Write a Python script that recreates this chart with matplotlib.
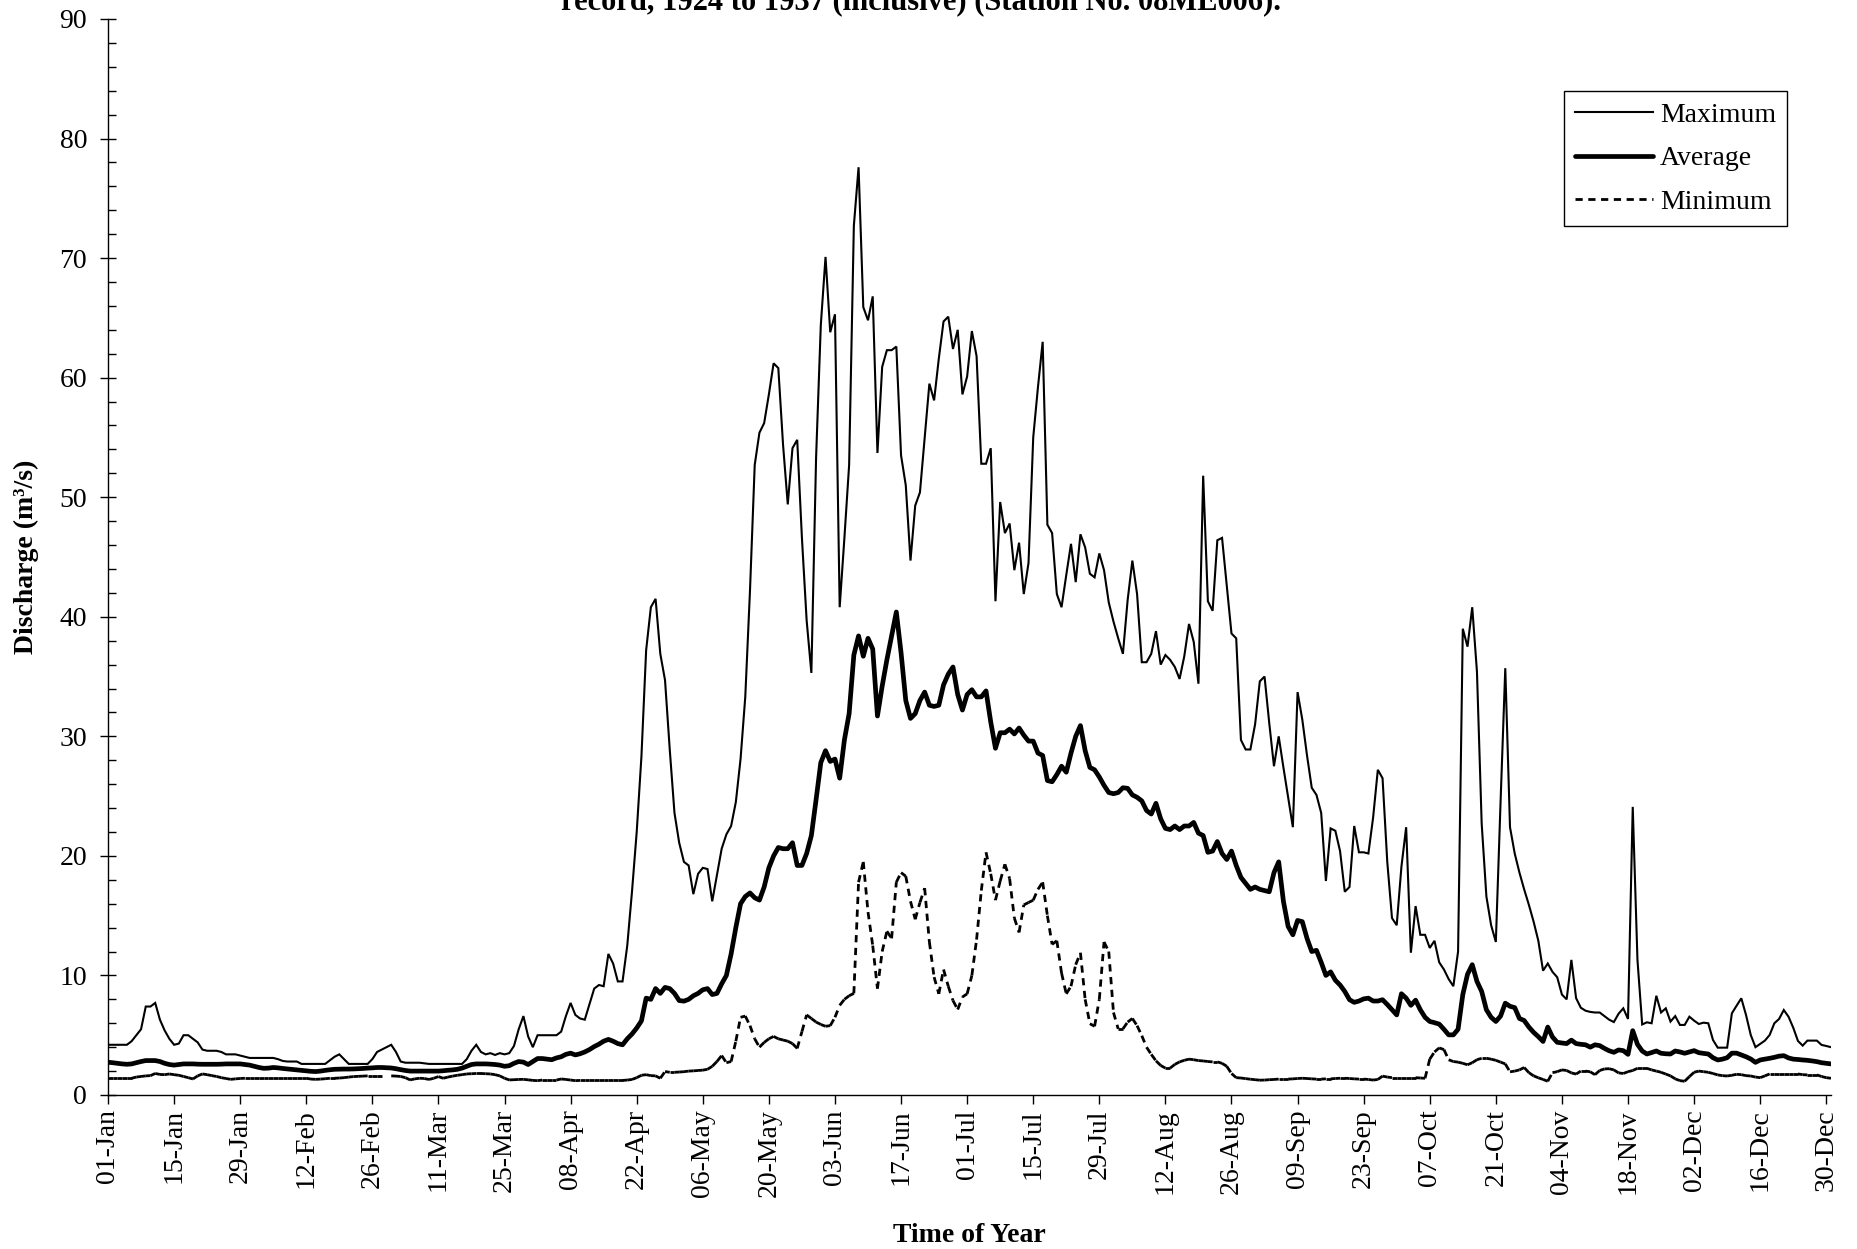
import numpy as np
import pandas as pd
import matplotlib
matplotlib.use("Agg")
import matplotlib.pyplot as plt
import matplotlib.dates as mdates
from matplotlib.collections import LineCollection
from matplotlib.lines import Line2D

plt.rcParams['font.family'] = ['Liberation Serif', 'DejaVu Serif']

# ---------------- DATA ----------------
title_text = "record, 1924 to 1937 (inclusive) (Station No. 08ME006)."
x_label = "Time of Year"
y_label = "Discharge (m³/s)"
series_names = ["Maximum", "Average", "Minimum"]

# one value per calendar day of a leap year, 01-Jan .. 31-Dec
days = pd.date_range("2000-01-01", "2000-12-31", freq="D")

maximum = [
    4.2, 4.2, 4.2, 4.2, 4.2, 4.5, 5.0, 5.5, 7.4, 7.4,
    7.7, 6.3, 5.4, 4.7, 4.2, 4.3, 5.0, 5.0, 4.7, 4.4,
    3.8, 3.7, 3.7, 3.7, 3.6, 3.4, 3.4, 3.4, 3.3, 3.2,
    3.1, 3.1, 3.1, 3.1, 3.1, 3.1, 3.0, 2.85, 2.8, 2.8,
    2.8, 2.6, 2.6, 2.6, 2.6, 2.6, 2.6, 2.9, 3.2, 3.4,
    3.0, 2.6, 2.6, 2.6, 2.6, 2.6, 3.0, 3.6, 3.8, 4.0,
    4.2, 3.6, 2.8, 2.7, 2.7, 2.7, 2.7, 2.65, 2.6, 2.6,
    2.6, 2.6, 2.6, 2.6, 2.6, 2.6, 3.0, 3.7, 4.2, 3.6,
    3.4, 3.5, 3.35, 3.5, 3.4, 3.5, 4.1, 5.5, 6.6, 4.9,
    4.0, 5.0, 5.0, 5.0, 5.0, 5.0, 5.3, 6.6, 7.7, 6.7,
    6.4, 6.3, 7.6, 8.9, 9.2, 9.1, 11.8, 11.0, 9.5, 9.5,
    12.5, 17.0, 22.0, 28.3, 37.2, 40.8, 41.5, 36.9, 34.7, 28.9,
    23.6, 21.1, 19.5, 19.2, 16.8, 18.5, 19.0, 18.9, 16.2, 18.4,
    20.6, 21.8, 22.5, 24.5, 28.1, 33.3, 42.2, 52.7, 55.4, 56.2,
    58.6, 61.2, 60.8, 54.4, 49.4, 54.1, 54.8, 46.6, 39.7, 35.3,
    53.3, 64.4, 70.1, 63.8, 65.3, 40.8, 46.6, 52.7, 72.7, 77.6,
    65.9, 64.8, 66.8, 53.7, 60.9, 62.3, 62.3, 62.6, 53.5, 51.0,
    44.7, 49.3, 50.4, 55.0, 59.5, 58.1, 61.6, 64.7, 65.1, 62.4,
    64.0, 58.6, 60.1, 63.9, 61.8, 52.8, 52.8, 54.1, 41.3, 49.6,
    47.0, 47.8, 43.9, 46.2, 41.9, 44.5, 55.0, 59.2, 63.0, 47.7,
    47.0, 41.9, 40.8, 43.5, 46.1, 42.9, 46.9, 45.8, 43.6, 43.3,
    45.3, 43.9, 41.2, 39.6, 38.2, 36.9, 41.4, 44.7, 41.9, 36.2,
    36.2, 36.9, 38.8, 36.0, 36.8, 36.4, 35.8, 34.8, 36.7, 39.4,
    37.9, 34.4, 51.8, 41.3, 40.5, 46.4, 46.6, 42.6, 38.6, 38.2,
    29.7, 28.9, 28.9, 31.0, 34.6, 35.0, 31.1, 27.5, 30.0, 27.4,
    24.9, 22.4, 33.7, 31.4, 28.4, 25.7, 25.1, 23.6, 17.9, 22.3,
    22.1, 20.4, 17.0, 17.4, 22.5, 20.3, 20.3, 20.2, 23.2, 27.2,
    26.5, 19.5, 14.8, 14.2, 19.1, 22.4, 11.9, 15.8, 13.4, 13.4,
    12.3, 12.9, 11.1, 10.5, 9.7, 9.1, 12.0, 39.0, 37.5, 40.8,
    35.4, 22.7, 16.6, 14.2, 12.8, 24.5, 35.7, 22.4, 20.2, 18.6,
    17.2, 15.9, 14.5, 12.9, 10.4, 11.0, 10.3, 9.85, 8.4, 8.0,
    11.3, 8.1, 7.3, 7.05, 6.95, 6.9, 6.9, 6.6, 6.3, 6.1,
    6.8, 7.25, 6.36, 24.1, 11.3, 5.9, 6.08, 6.0, 8.3, 6.9,
    7.25, 6.14, 6.6, 5.86, 5.86, 6.55, 6.22, 5.94, 6.05, 6.0,
    4.6, 3.96, 3.96, 3.96, 6.83, 7.47, 8.09, 6.69, 5.02, 4.0,
    4.27, 4.55, 5.02, 6.0, 6.36, 7.11, 6.55, 5.63, 4.52, 4.13,
    4.55, 4.55, 4.55, 4.19, 4.1, 4.0,
]

average = [
    2.74, 2.7, 2.65, 2.6, 2.57, 2.6, 2.7, 2.8, 2.88, 2.88,
    2.88, 2.8, 2.65, 2.55, 2.5, 2.55, 2.6, 2.6, 2.6, 2.58,
    2.57, 2.57, 2.57, 2.57, 2.58, 2.6, 2.6, 2.6, 2.6, 2.55,
    2.5, 2.4, 2.3, 2.23, 2.25, 2.3, 2.27, 2.22, 2.18, 2.14,
    2.1, 2.06, 2.02, 1.98, 1.96, 2.0, 2.06, 2.11, 2.15, 2.16,
    2.17, 2.17, 2.18, 2.2, 2.22, 2.25, 2.27, 2.3, 2.3, 2.28,
    2.26, 2.2, 2.12, 2.05, 2.0, 2.0, 2.0, 2.0, 2.0, 2.0,
    2.0, 2.03, 2.07, 2.1, 2.15, 2.25, 2.4, 2.55, 2.6, 2.6,
    2.6, 2.58, 2.55, 2.5, 2.4, 2.45, 2.65, 2.8, 2.75, 2.55,
    2.8, 3.05, 3.05, 3.0, 2.95, 3.1, 3.2, 3.4, 3.5, 3.35,
    3.45, 3.6, 3.8, 4.05, 4.25, 4.5, 4.65, 4.5, 4.3, 4.2,
    4.7, 5.1, 5.6, 6.2, 8.1, 8.0, 8.9, 8.5, 9.0, 8.9,
    8.5, 7.9, 7.85, 8.0, 8.3, 8.5, 8.8, 8.9, 8.4, 8.5,
    9.3, 10.0, 11.8, 14.0, 16.0, 16.6, 16.9, 16.5, 16.3, 17.4,
    19.0, 20.0, 20.7, 20.6, 20.6, 21.1, 19.2, 19.2, 20.2, 21.7,
    24.7, 27.8, 28.8, 27.9, 28.1, 26.5, 29.7, 31.9, 36.8, 38.4,
    36.7, 38.2, 37.3, 31.7, 34.2, 36.4, 38.4, 40.4, 37.0, 33.0,
    31.5, 31.9, 33.0, 33.7, 32.6, 32.5, 32.6, 34.3, 35.2, 35.8,
    33.5, 32.2, 33.5, 33.9, 33.3, 33.3, 33.8, 31.2, 29.0, 30.3,
    30.3, 30.6, 30.2, 30.7, 30.1, 29.6, 29.6, 28.6, 28.4, 26.3,
    26.2, 26.8, 27.5, 27.0, 28.6, 30.0, 30.9, 28.8, 27.4, 27.2,
    26.6, 25.9, 25.3, 25.2, 25.3, 25.7, 25.65, 25.1, 24.9, 24.6,
    23.8, 23.5, 24.4, 23.1, 22.3, 22.2, 22.5, 22.2, 22.5, 22.5,
    22.8, 21.9, 21.7, 20.3, 20.4, 21.2, 20.2, 19.7, 20.4, 19.2,
    18.2, 17.7, 17.2, 17.4, 17.2, 17.1, 17.0, 18.6, 19.5, 16.2,
    14.1, 13.4, 14.6, 14.5, 13.1, 12.0, 12.1, 11.1, 10.0, 10.3,
    9.6, 9.2, 8.66, 7.97, 7.75, 7.86, 8.04, 8.1, 7.86, 7.86,
    7.97, 7.57, 7.13, 6.7, 8.47, 8.1, 7.5, 7.93, 7.13, 6.5,
    6.15, 6.05, 5.93, 5.5, 5.03, 5.03, 5.5, 8.4, 10.1, 10.9,
    9.5, 8.66, 7.13, 6.5, 6.15, 6.6, 7.68, 7.42, 7.31, 6.4,
    6.23, 5.68, 5.24, 4.88, 4.48, 5.68, 4.85, 4.41, 4.35, 4.3,
    4.59, 4.3, 4.24, 4.2, 4.0, 4.2, 4.13, 3.9, 3.7, 3.57,
    3.77, 3.71, 3.4, 5.38, 4.24, 3.68, 3.43, 3.55, 3.68, 3.49,
    3.45, 3.43, 3.68, 3.6, 3.49, 3.6, 3.71, 3.54, 3.48, 3.43,
    3.12, 2.93, 3.0, 3.12, 3.5, 3.5, 3.35, 3.2, 3.01, 2.73,
    2.93, 3.0, 3.07, 3.15, 3.25, 3.29, 3.1, 3.0, 2.97, 2.93,
    2.9, 2.85, 2.79, 2.7, 2.65, 2.6,
]

minimum = [
    1.4, 1.4, 1.4, 1.4, 1.4, 1.4, 1.5, 1.55, 1.6, 1.62,
    1.8, 1.72, 1.7, 1.76, 1.7, 1.65, 1.55, 1.45, 1.34, 1.6,
    1.76, 1.7, 1.62, 1.55, 1.45, 1.38, 1.31, 1.35, 1.38, 1.4,
    1.4, 1.4, 1.4, 1.4, 1.4, 1.4, 1.4, 1.4, 1.4, 1.4,
    1.4, 1.4, 1.4, 1.33, 1.31, 1.33, 1.36, 1.4, 1.4, 1.42,
    1.45, 1.5, 1.54, 1.56, 1.58, 1.6, 1.6, 1.6, 1.6, np.nan,
    1.6, 1.58, 1.55, 1.45, 1.26, 1.35, 1.4, 1.38, 1.3, 1.4,
    1.54, 1.4, 1.5, 1.58, 1.65, 1.7, 1.76, 1.78, 1.8, 1.8,
    1.78, 1.76, 1.7, 1.6, 1.4, 1.26, 1.28, 1.3, 1.31, 1.27,
    1.22, 1.2, 1.25, 1.25, 1.25, 1.25, 1.34, 1.3, 1.25, 1.2,
    1.22, 1.22, 1.22, 1.22, 1.22, 1.22, 1.22, 1.22, 1.22, 1.22,
    1.25, 1.3, 1.45, 1.65, 1.7, 1.62, 1.6, 1.4, 1.96, 1.9,
    1.9, 1.92, 1.95, 2.0, 2.02, 2.05, 2.08, 2.15, 2.4, 2.8,
    3.3, 2.7, 2.8, 4.5, 6.5, 6.6, 5.8, 4.7, 4.0, 4.4,
    4.7, 4.9, 4.7, 4.6, 4.5, 4.3, 3.9, 5.3, 6.7, 6.4,
    6.1, 5.9, 5.75, 5.8, 6.5, 7.5, 8.0, 8.3, 8.5, 17.8,
    19.5, 15.3, 12.5, 8.9, 12.0, 13.7, 13.1, 17.8, 18.6, 18.3,
    16.2, 14.7, 16.1, 17.3, 12.8, 9.86, 8.46, 10.5, 9.1, 7.9,
    7.15, 8.2, 8.46, 10.0, 13.0, 17.1, 20.3, 18.5, 16.3, 17.9,
    19.3, 18.1, 14.8, 13.6, 15.9, 16.1, 16.3, 17.2, 17.8, 15.0,
    12.6, 12.9, 10.2, 8.46, 9.1, 10.9, 11.9, 8.0, 5.96, 5.75,
    8.0, 12.8, 12.0, 6.9, 5.53, 5.53, 6.1, 6.4, 5.8, 4.96,
    4.0, 3.4, 2.86, 2.47, 2.25, 2.25, 2.56, 2.77, 2.9, 3.0,
    2.95, 2.88, 2.85, 2.8, 2.77, 2.77, 2.65, 2.4, 1.8, 1.45,
    1.42, 1.37, 1.32, 1.28, 1.24, 1.25, 1.28, 1.3, 1.33, 1.33,
    1.33, 1.35, 1.38, 1.4, 1.38, 1.35, 1.33, 1.33, 1.35, 1.35,
    1.38, 1.4, 1.4, 1.38, 1.35, 1.33, 1.33, 1.3, 1.25, 1.3,
    1.58, 1.5, 1.45, 1.45, 1.45, 1.45, 1.45, 1.45, 1.42, 1.4,
    3.0, 3.6, 3.94, 3.8, 2.95, 2.8, 2.75, 2.65, 2.53, 2.7,
    2.95, 3.07, 3.07, 3.0, 2.9, 2.75, 2.6, 1.94, 2.0, 2.1,
    2.3, 1.87, 1.6, 1.44, 1.3, 1.15, 1.87, 1.95, 2.1, 2.05,
    1.85, 1.75, 2.0, 2.0, 1.94, 1.7, 2.05, 2.18, 2.2, 2.1,
    1.85, 1.8, 1.95, 2.05, 2.23, 2.23, 2.23, 2.1, 2.0, 1.9,
    1.75, 1.6, 1.35, 1.2, 1.15, 1.54, 1.9, 2.0, 1.95, 1.9,
    1.8, 1.68, 1.62, 1.59, 1.65, 1.73, 1.7, 1.62, 1.59, 1.5,
    1.45, 1.6, 1.76, 1.76, 1.76, 1.76, 1.76, 1.76, 1.76, 1.7,
    1.68, 1.68, 1.68, 1.55, 1.45, 1.4,
]

# ---------------- FIGURE ----------------
W, H = 1858, 1249
fig = plt.figure(figsize=(W / 100, H / 100), dpi=100)
ax_l, ax_r, ax_t, ax_b = 108, 1831, 19, 1095
ax = fig.add_axes([ax_l / W, 1 - ax_b / H, (ax_r - ax_l) / W, (ax_b - ax_t) / H])

lw_max, lw_avg, lw_min = 1.5, 3.4, 2.0
min_dash = (0, (2.6, 2.0))

ax.plot(days, maximum, color="black", lw=lw_max, solid_joinstyle="miter")
ax.plot(days, average, color="black", lw=lw_avg, solid_joinstyle="round")

# minimum: each daily segment dashed on its own (dash restarts per segment)
xnum = mdates.date2num(days.to_pydatetime())
ymin = np.array(minimum, dtype=float)
segs = []
for i in range(len(xnum) - 1):
    if np.isfinite(ymin[i]) and np.isfinite(ymin[i + 1]):
        segs.append([(xnum[i], ymin[i]), (xnum[i + 1], ymin[i + 1])])
lc = LineCollection(segs, colors="black", linewidths=lw_min, linestyles=[min_dash])
lc.set_capstyle("butt")
ax.add_collection(lc)

ax.set_xlim(days[0], days[-1])
ax.set_ylim(0, 90)
ax.set_yticks(np.arange(0, 91, 10))
ax.set_yticks(np.arange(0, 91, 2), minor=True)
ax.set_xticks(days[::14])
ax.xaxis.set_major_formatter(mdates.DateFormatter("%d-%b"))

for s in ("top", "right"):
    ax.spines[s].set_visible(False)
for s in ("left", "bottom"):
    ax.spines[s].set_linewidth(1.0)

ax.tick_params(axis="y", which="major", direction="inout", length=12, width=1.0,
               pad=9, labelsize=20)
ax.tick_params(axis="y", which="minor", direction="in", length=5.5, width=1.0)
ax.tick_params(axis="x", which="major", direction="out", length=6.2, width=1.0,
               pad=4, labelsize=20, labelrotation=90)

ax.set_ylabel(y_label, fontsize=20, fontweight="bold", va="center")
ax.yaxis.set_label_coords((26 - ax_l) / (ax_r - ax_l), 0.5)
ax.set_xlabel(x_label, fontsize=20, fontweight="bold", va="center")
ax.xaxis.set_label_coords(0.5, (ax_b - 1235) / (ax_b - ax_t))

fig.text(921 / W, 1 - 9.5 / H, title_text, ha="center", va="baseline",
         fontsize=22, fontweight="bold")

handles = [
    Line2D([], [], color="black", lw=lw_max),
    Line2D([], [], color="black", lw=lw_avg, solid_capstyle="round"),
    Line2D([], [], color="black", lw=lw_min, linestyle=min_dash),
]
leg = ax.legend(handles, series_names, loc="upper right",
                bbox_to_anchor=((1787 - ax_l) / (ax_r - ax_l), (ax_b - 91) / (ax_b - ax_t)),
                borderaxespad=0, fontsize=20, frameon=True, fancybox=False,
                edgecolor="black", framealpha=1, handlelength=2.8,
                handletextpad=0.25, borderpad=0.4, labelspacing=0.66)
leg.get_frame().set_linewidth(1.0)

fig.savefig("out.png", dpi=100)
